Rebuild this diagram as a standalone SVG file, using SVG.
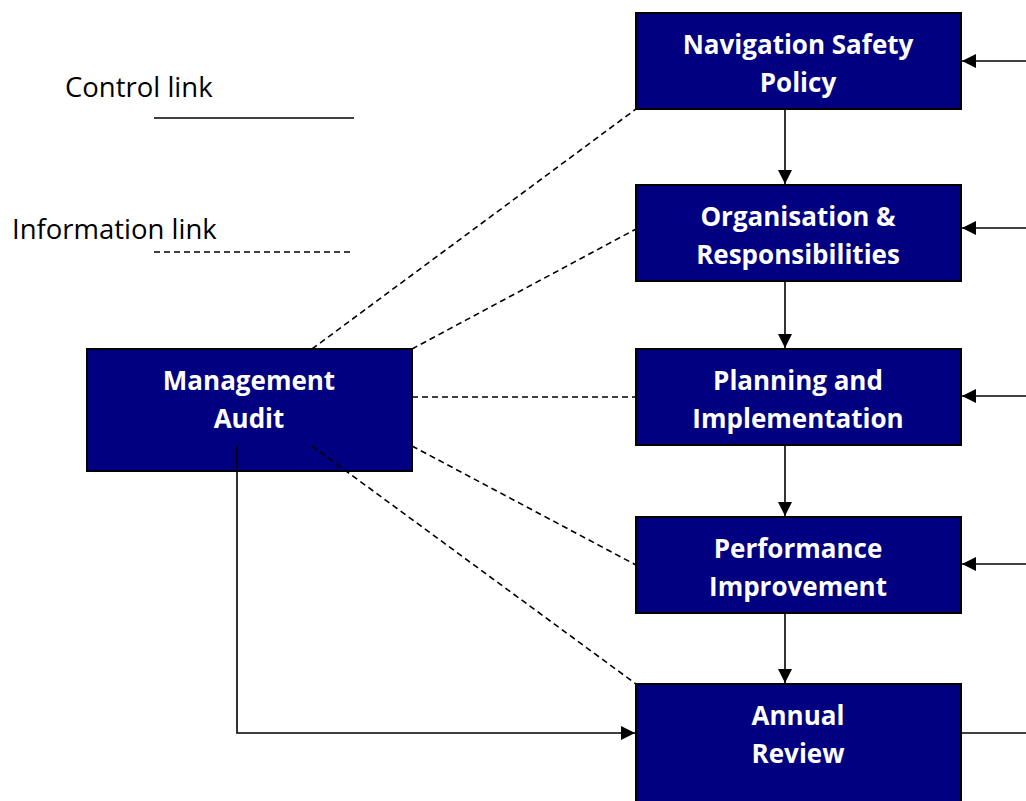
<svg xmlns="http://www.w3.org/2000/svg" width="1026" height="801" viewBox="0 0 1026 801">
<style>
.box{fill:#000080;stroke:#000;stroke-width:2}
.bt{font-family:"Open Sans","Liberation Sans",Arial,sans-serif;font-weight:bold;font-size:26px;fill:#fff;text-anchor:middle}
.lt{font-family:"Open Sans","Liberation Sans",Arial,sans-serif;font-size:27.5px;fill:#000}
.ctl{stroke:#000;stroke-width:1.6;fill:none}
.inf{stroke:#000;stroke-width:1.6;fill:none;stroke-dasharray:6 4}
</style>
<defs>
<marker id="ah" viewBox="0 0 14 14" refX="14" refY="7" markerWidth="14" markerHeight="14" markerUnits="userSpaceOnUse" orient="auto">
<path d="M0,0 L14,7 L0,14 z" fill="#000"/>
</marker>
</defs>
<rect width="1026" height="801" fill="#fff"/>
<g id="legend">
<text class="lt" x="65" y="97">Control link</text>
<line class="ctl" x1="154" y1="118" x2="354" y2="118"/>
<text class="lt" x="12" y="239">Information link</text>
<line class="inf" x1="154" y1="252" x2="354" y2="252"/>
</g>
<g id="nav">
<rect class="box" x="636" y="13" width="325" height="96"/>
<text class="bt" x="798" y="54">Navigation Safety</text>
<text class="bt" x="798" y="92">Policy</text>
</g>
<g id="org">
<rect class="box" x="636" y="185" width="325" height="96"/>
<text class="bt" x="798" y="226">Organisation &amp;</text>
<text class="bt" x="798" y="264">Responsibilities</text>
</g>
<g id="plan">
<rect class="box" x="636" y="349" width="325" height="96"/>
<text class="bt" x="798" y="390">Planning and</text>
<text class="bt" x="798" y="428">Implementation</text>
</g>
<g id="perf">
<rect class="box" x="636" y="517" width="325" height="96"/>
<text class="bt" x="798" y="558">Performance</text>
<text class="bt" x="798" y="596">Improvement</text>
</g>
<g id="annual">
<rect class="box" x="636" y="684" width="325" height="130"/>
<text class="bt" x="798" y="725">Annual</text>
<text class="bt" x="798" y="763">Review</text>
</g>
<g id="audit">
<rect class="box" x="87" y="349" width="325" height="122"/>
<text class="bt" x="249" y="390">Management</text>
<text class="bt" x="249" y="428">Audit</text>
</g>
<g id="connectors">
<line class="ctl" x1="785" y1="109" x2="785" y2="184" marker-end="url(#ah)"/>
<line class="ctl" x1="785" y1="281" x2="785" y2="348" marker-end="url(#ah)"/>
<line class="ctl" x1="785" y1="445" x2="785" y2="516" marker-end="url(#ah)"/>
<line class="ctl" x1="785" y1="613" x2="785" y2="683" marker-end="url(#ah)"/>
<line class="ctl" x1="1026" y1="61" x2="962" y2="61" marker-end="url(#ah)"/>
<line class="ctl" x1="1026" y1="228" x2="962" y2="228" marker-end="url(#ah)"/>
<line class="ctl" x1="1026" y1="396" x2="962" y2="396" marker-end="url(#ah)"/>
<line class="ctl" x1="1026" y1="564" x2="962" y2="564" marker-end="url(#ah)"/>
<line class="ctl" x1="961" y1="733" x2="1026" y2="733"/>
<polyline class="ctl" points="237,446 237,733 635,733" marker-end="url(#ah)"/>
<line class="inf" x1="312" y1="349" x2="636" y2="109"/>
<line class="inf" x1="412" y1="349" x2="636" y2="229"/>
<line class="inf" x1="412" y1="397" x2="636" y2="397"/>
<line class="inf" x1="412" y1="446" x2="636" y2="565"/>
<line class="inf" x1="312" y1="446" x2="636" y2="684"/>
</g>
</svg>
